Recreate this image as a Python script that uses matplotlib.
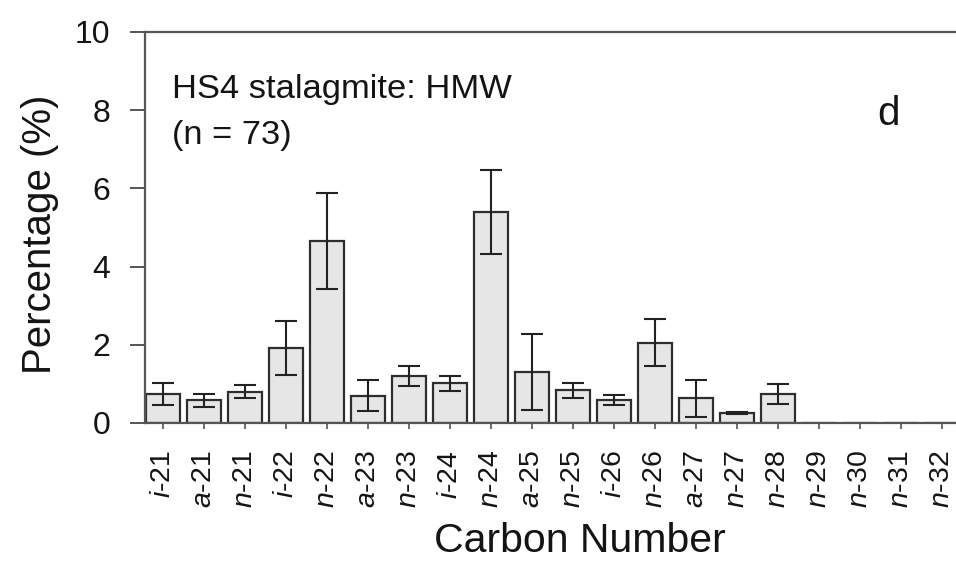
import numpy as np
import matplotlib
matplotlib.use("Agg")
import matplotlib.pyplot as plt

# Données (HS4 stalagmite, HMW)
prefixes = ['i', 'a', 'n', 'i', 'n', 'a', 'n', 'i', 'n', 'a',
            'n', 'i', 'n', 'a', 'n', 'n', 'n', 'n', 'n', 'n']
carbons = [21, 21, 21, 22, 22, 23, 23, 24, 24, 25,
           25, 26, 26, 27, 27, 28, 29, 30, 31, 32]
percent = [0.75, 0.58, 0.80, 1.92, 4.66, 0.70, 1.20, 1.02, 5.40, 1.31,
           0.84, 0.59, 2.05, 0.63, 0.25, 0.74, 0.0, 0.0, 0.0, 0.0]
errors = [0.28, 0.17, 0.17, 0.69, 1.23, 0.40, 0.25, 0.19, 1.08, 0.97,
          0.19, 0.12, 0.60, 0.47, 0.03, 0.25, 0.0, 0.0, 0.0, 0.0]
yticks = [0, 2, 4, 6, 8, 10]

plt.rcParams['font.family'] = ['Liberation Sans', 'DejaVu Sans']
plt.rcParams['mathtext.fontset'] = 'custom'
plt.rcParams['mathtext.rm'] = 'Liberation Sans'
plt.rcParams['mathtext.it'] = 'Liberation Sans:italic'

txt_color = '#141414'
axis_color = '#555555'

fig = plt.figure(figsize=(9.56, 5.61), dpi=100)
ax = fig.add_axes([0.1517, 0.246, 0.8525, 0.697])

x = np.arange(len(percent))
ax.bar(x, percent, width=0.85, color='#e6e6e6', edgecolor='#2e2e2e', linewidth=1.6, zorder=2)

# barres d'erreur seulement là où il y a une valeur
mask = np.array(errors) > 0
ax.errorbar(x[mask], np.array(percent)[mask], yerr=np.array(errors)[mask], fmt='none',
            ecolor='#222222', elinewidth=1.5, capsize=8, capthick=1.5, zorder=3)

ax.set_xlim(-0.44, 19.44)
ax.set_ylim(0, 10)
ax.set_yticks(yticks)
ax.set_yticklabels([str(v) for v in yticks], fontsize=23, color=txt_color)

labels = [r'$\mathit{%s}$-%d' % (p, c) for p, c in zip(prefixes, carbons)]
ax.set_xticks(x)
ax.set_xticklabels(labels, rotation=90, fontsize=20.5, color=txt_color, va='top')

ax.tick_params(axis='y', direction='out', length=11, width=1.4, pad=14, color=axis_color)
ax.tick_params(axis='x', direction='out', length=4.5, width=1.2, pad=15, color=axis_color)

for side in ['left', 'bottom', 'top']:
    ax.spines[side].set_color(axis_color)
    ax.spines[side].set_linewidth(1.6)
ax.spines['right'].set_visible(False)

ax.set_xlabel('Carbon Number', fontsize=29.5, color=txt_color, va='top')
ax.xaxis.set_label_coords(0.534, -0.254)
ax.set_ylabel('Percentage (%)', fontsize=29, color=txt_color, va='center')
ax.yaxis.set_label_coords(-0.129, 0.483)

ax.text(0.033, 0.831, 'HS4 stalagmite: HMW', transform=ax.transAxes, fontsize=24.8,
        color=txt_color, va='baseline', ha='left')
ax.text(0.033, 0.714, '(n = 73)', transform=ax.transAxes, fontsize=24.8,
        color=txt_color, va='baseline', ha='left')
ax.text(0.899, 0.762, 'd', transform=ax.transAxes, fontsize=29,
        color=txt_color, va='baseline', ha='left')

fig.savefig('out.png', dpi=100)
